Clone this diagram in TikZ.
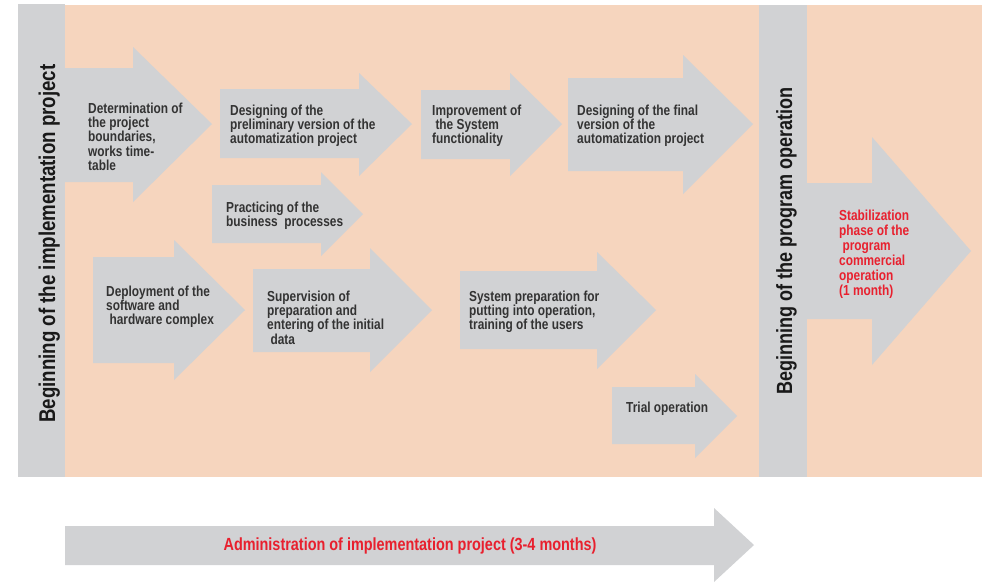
\documentclass[tikz,border=0pt]{standalone}
\usepackage{fontspec}
\setmainfont{Liberation Sans}[FakeStretch=0.82]
\usepackage{tikz}
\usepackage{xcolor}
\definecolor{peach}{HTML}{F6D5BE}
\definecolor{bargray}{HTML}{D1D2D4}
\definecolor{textgray}{HTML}{333333}
\definecolor{phasered}{HTML}{E8202E}

\begin{document}
\begin{tikzpicture}[x=1pt,y=-1pt]
	 \tikzstyle{block arrow}=[fill=bargray]
	 \tikzstyle{arrow text}=[anchor=base west,align=left,inner sep=0pt,text=textgray,font=\bfseries\fontsize{14.5}{14.4}\selectfont]
	 \tikzstyle{red text}=[arrow text,text=phasered,font=\bfseries\fontsize{14.5}{15}\selectfont]
	 \tikzstyle{bar text}=[rotate=90,anchor=base west,inner sep=0pt,text=black!90,font=\bfseries\fontsize{22}{24}\selectfont]
	 \useasboundingbox (0,0) rectangle (982,582);
	 % background and the two milestone bars
	 \fill[peach] (65,5) rectangle (982,477);
	 \fill[bargray] (18,4) rectangle (65,477);
	 \fill[bargray] (759,5) rectangle (807,477);
	 % arrows
	 \fill[block arrow] (65,68) -- (133,68) -- (133,47) -- (212,124) -- (133,202) -- (133,182) -- (65,182) -- cycle;
	 \fill[block arrow] (220,89) -- (359,89) -- (359,73) -- (412,124) -- (359,176) -- (359,158) -- (220,158) -- cycle;
	 \fill[block arrow] (212,185) -- (321,185) -- (321,172) -- (363,214) -- (321,256) -- (321,243) -- (212,243) -- cycle;
	 \fill[block arrow] (421,90) -- (510,90) -- (510,73) -- (562,124) -- (510,176) -- (510,159) -- (421,159) -- cycle;
	 \fill[block arrow] (568,78) -- (683,78) -- (683,55) -- (753,124) -- (683,194) -- (683,171) -- (568,171) -- cycle;
	 \fill[block arrow] (93,257) -- (174,257) -- (174,240) -- (245,310) -- (174,380) -- (174,363) -- (93,363) -- cycle;
	 \fill[block arrow] (253,269) -- (370,269) -- (370,248) -- (432,310) -- (370,372) -- (370,352) -- (253,352) -- cycle;
	 \fill[block arrow] (460,271) -- (597,271) -- (597,252) -- (656,310) -- (597,369) -- (597,349) -- (460,349) -- cycle;
	 \fill[block arrow] (612,387) -- (695,387) -- (695,374) -- (737,416) -- (695,458) -- (695,444) -- (612,444) -- cycle;
	 \fill[block arrow] (807,183) -- (872,183) -- (872,137) -- (971,251) -- (872,365) -- (872,319) -- (807,319) -- cycle;
	 \fill[block arrow] (65,526) -- (714,526) -- (714,508) -- (754,545) -- (714,582) -- (714,565) -- (65,565) -- cycle;
	 % texts (placed by the baseline of their last line)
	 \node[bar text,font=\bfseries\fontsize{22.8}{24}\selectfont] (startimpl) at (55,423) {Beginning of the implementation project};
	 \node[bar text] (startprog) at (792,395) {Beginning of the program operation};
	 \node[arrow text] (bounds) at (88,170.6) {Determination of\\the project\\boundaries,\\works time-\\table};
	 \node[arrow text] (prelim) at (230,143.8) {Designing of the\\preliminary version of the\\automatization project};
	 \node[arrow text] (practice) at (226,226.4) {Practicing of the\\business \ processes};
	 \node[arrow text] (improve) at (432,143.8) {Improvement of\\\ the System\\functionality};
	 \node[arrow text] (final) at (577,143.8) {Designing of the final\\version of the\\automatization project};
	 \node[arrow text] (deploy) at (106,324.8) {Deployment of the\\software and\\\ hardware complex};
	 \node[arrow text] (supervise) at (267,344.2) {Supervision of\\preparation and\\entering of the initial\\\ data};
	 \node[arrow text] (sysprep) at (469,329.8) {System preparation for\\putting into operation,\\training of the users};
	 \node[arrow text] (trial) at (626,412) {Trial operation};
	 \node[red text] (stab) at (839,295) {Stabilization\\phase of the\\\ program\\commercial\\operation\\(1 month)};
	 \node[red text,anchor=base,font=\bfseries\fontsize{17.6}{18}\selectfont] (admin) at (410,550) {Administration of implementation project (3-4 months)};
\end{tikzpicture}
\end{document}
